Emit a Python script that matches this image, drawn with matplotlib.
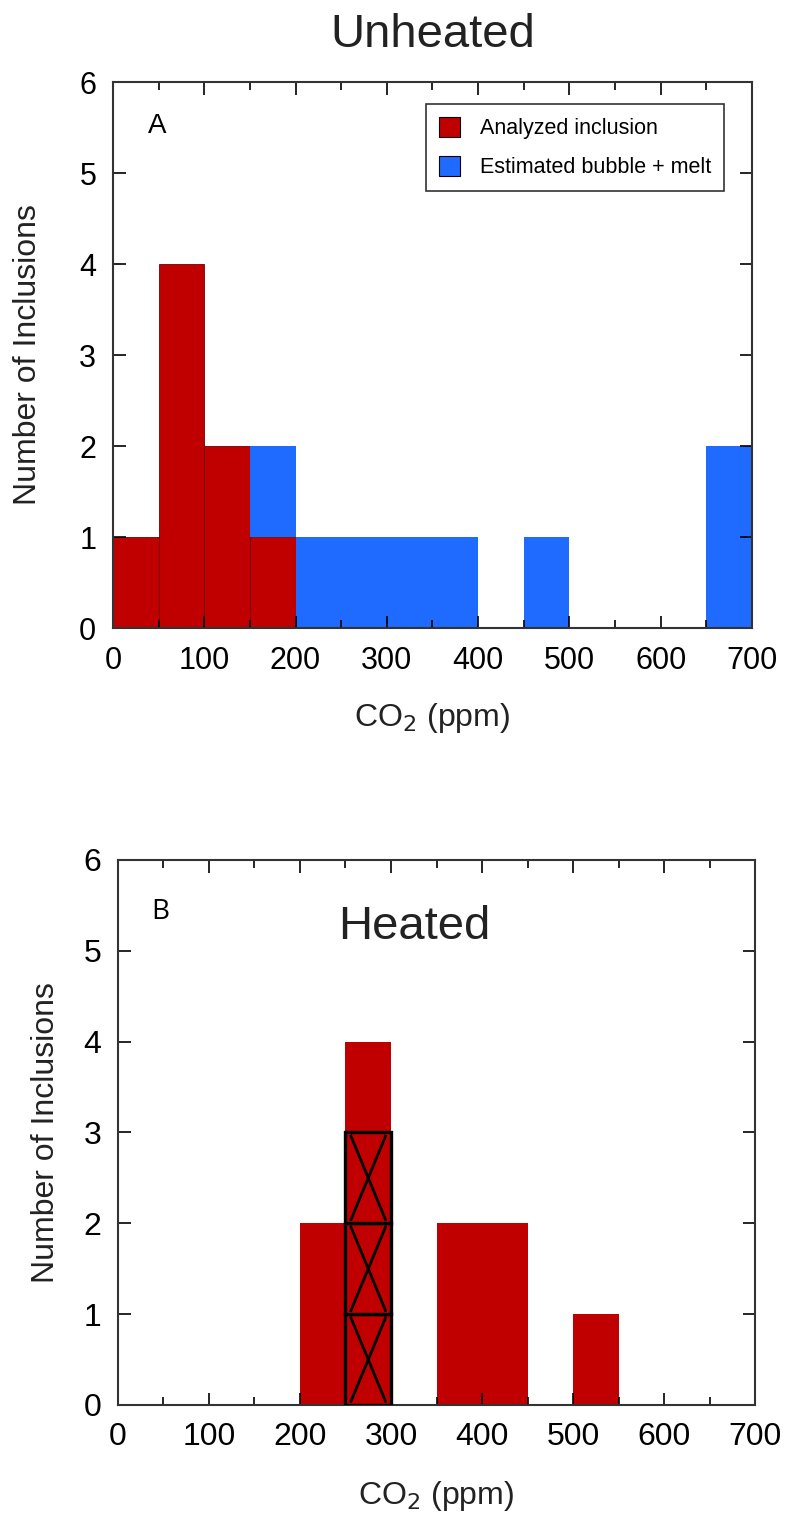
import numpy as np
import matplotlib
matplotlib.use('Agg')
import matplotlib.pyplot as plt
from matplotlib.ticker import MultipleLocator

plt.rcParams['font.family'] = ['Liberation Sans', 'DejaVu Sans']

# %%
# histogram bins, 50 ppm wide
bin_left = np.arange(0, 700, 50)
bin_width = 50

# unheated: analyzed inclusions (red) and estimated bubble + melt (blue, stacked)
unheated_analyzed = [1, 4, 2, 1, 0, 0, 0, 0, 0, 0, 0, 0, 0, 0]
unheated_bubble = [0, 0, 0, 1, 1, 1, 1, 1, 0, 1, 0, 0, 0, 2]

# heated: analyzed inclusions, plus which of them are crossed out boxes
heated_analyzed = [0, 0, 0, 0, 2, 4, 0, 2, 2, 0, 1, 0, 0, 0]
heated_crossed = [0, 0, 0, 0, 0, 3, 0, 0, 0, 0, 0, 0, 0, 0]

red = '#c00000'
blue = '#1f6bff'


def style_axes(ax, size, xlab_pad, ylab_pad, xpad):
    ax.set_xlim(0, 700)
    ax.set_ylim(0, 6)
    ax.xaxis.set_major_locator(MultipleLocator(100))
    ax.xaxis.set_minor_locator(MultipleLocator(50))
    ax.yaxis.set_major_locator(MultipleLocator(1))
    ax.tick_params(which='both', direction='in', top=True, right=True,
                   labelsize=size)
    ax.tick_params(axis='x', pad=xpad)
    ax.tick_params(axis='y', pad=12)
    ax.tick_params(which='major', length=9, width=1.2)
    ax.tick_params(which='minor', length=6, width=1.2)
    for s in ax.spines.values():
        s.set_linewidth(1.5)
        s.set_color('#333333')
    ax.set_xlabel('CO$_2$ (ppm)', fontsize=23, color='#222222',
                  labelpad=xlab_pad)
    ax.set_ylabel('Number of Inclusions', fontsize=23, color='#222222',
                  labelpad=ylab_pad)


fig = plt.figure(figsize=(7.94, 15.14), dpi=100)

# %% Panel A - unheated
ax1 = fig.add_axes([0.1423, 0.5852, 0.8048, 0.3606])
ax1.bar(bin_left, unheated_analyzed, width=bin_width, align='edge',
        color=red, edgecolor='#700000', linewidth=0.6,
        label='Analyzed inclusion')
ax1.bar(bin_left, unheated_bubble, width=bin_width, align='edge',
        bottom=unheated_analyzed, color=blue, edgecolor='none',
        label='Estimated bubble + melt')
style_axes(ax1, 22, 18, 26, 13)
ax1.text(0.055, 0.92, 'A', transform=ax1.transAxes, fontsize=20,
         va='center')
ax1.set_title('Unheated', fontsize=34, color='#222222', pad=25)
leg = ax1.legend(loc='upper right', bbox_to_anchor=(0.956, 0.96),
                 fontsize=15.5, frameon=True, fancybox=False,
                 handlelength=1.0, handleheight=1.1, borderpad=0.6,
                 labelspacing=0.75, handletextpad=0.9, borderaxespad=0)
leg.get_frame().set_edgecolor('black')
leg.get_frame().set_linewidth(1.2)
for h in leg.legend_handles:
    h.set_edgecolor('black')
    h.set_linewidth(0.8)

# %% Panel B - heated
ax2 = fig.add_axes([0.1486, 0.072, 0.8023, 0.36])
ax2.bar(bin_left, heated_analyzed, width=bin_width, align='edge',
        color=red, edgecolor='none')
# crossed out inclusions, one box each
inset = 0.12 * bin_width
for x0, n in zip(bin_left, heated_crossed):
    for k in range(n):
        ax2.bar(x0, 1, width=bin_width, align='edge', bottom=k,
                color=red, edgecolor='black', linewidth=2.4, zorder=3)
        ax2.plot([x0 + inset, x0 + bin_width - inset], [k + 0.04, k + 0.96],
                 color='black', lw=2.0, zorder=4)
        ax2.plot([x0 + inset, x0 + bin_width - inset], [k + 0.96, k + 0.04],
                 color='black', lw=2.0, zorder=4)
style_axes(ax2, 23, 20, 16, 12)
ax2.text(0.066, 0.905, 'B', transform=ax2.transAxes, fontsize=20,
         family='Open Sans', va='center', ha='center')
ax2.text(0.465, 0.855, 'Heated', transform=ax2.transAxes, fontsize=34,
         color='#222222', ha='center')

fig.savefig('out.png', dpi=100)
